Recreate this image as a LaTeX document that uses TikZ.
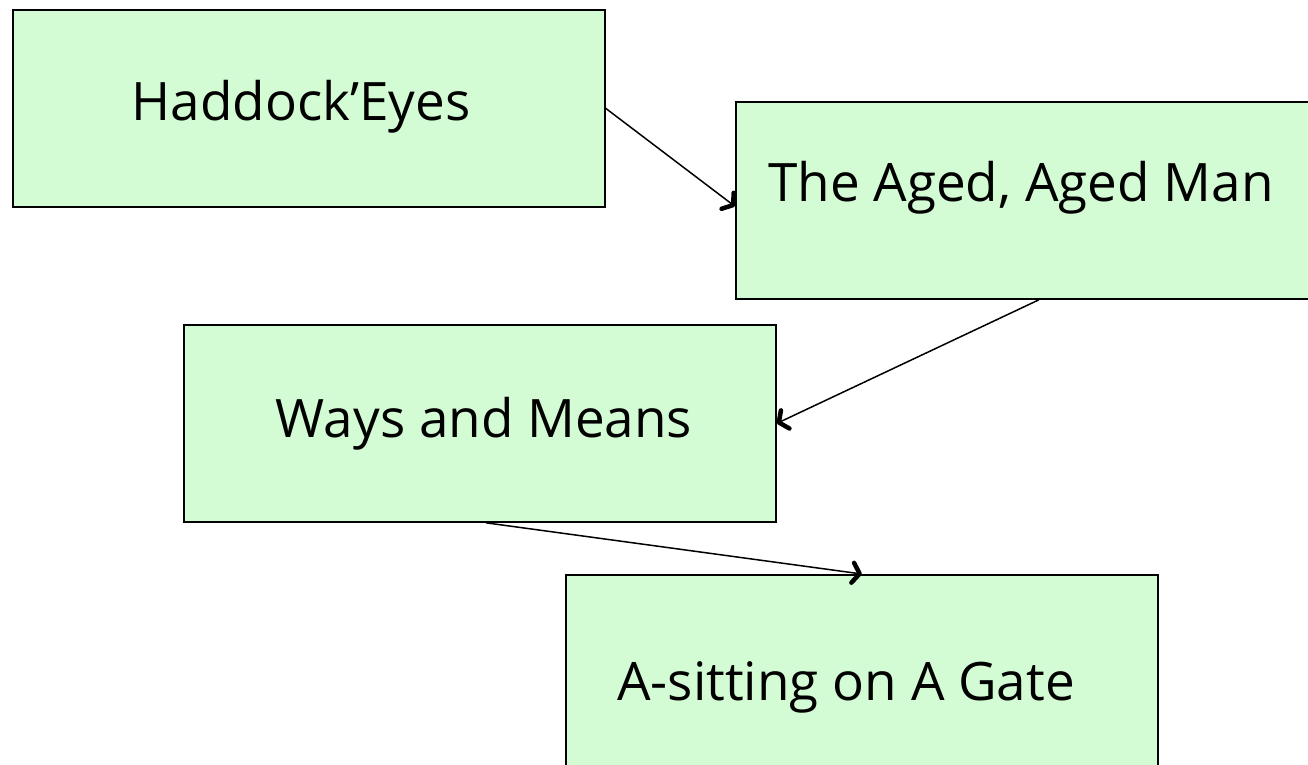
\documentclass[tikz,border=0pt]{standalone}
\usepackage{fontspec}
\setmainfont{Open Sans}
\usetikzlibrary{arrows.meta}
\definecolor{boxgreen}{RGB}{212,252,212}
\begin{document}
\begin{tikzpicture}[x=1pt,y=-1pt,
  box/.style={draw=black,line width=1.8pt,fill=boxgreen,minimum width=592pt,minimum height=197pt,inner sep=0pt,anchor=north west},
  lbl/.style={font=\fontsize{53}{63}\selectfont,inner sep=0pt,anchor=base},
  conn/.style={line width=1.5pt,arrows={-Straight Barb[length=7pt,width=20pt,line width=4.5pt,round]}}]
\useasboundingbox (0,0) rectangle (1308,765);
\clip (0,0) rectangle (1308,765);
\node[box] (b1) at (12,9) {};
\node[box] (b2) at (735,101) {};
\node[box] (b3) at (183,324) {};
\node[box] (b4) at (565,574) {};
\node[lbl] (t1) at (301,121) {Haddock’Eyes};
\node[lbl] (t2) at (1021,201) {The Aged, Aged Man};
\node[lbl] (t3) at (484,437) {Ways and Means};
\node[lbl] (t4) at (846,700) {A-sitting on A Gate};
\coordinate (e1) at ([yshift=-6pt]b2.west);
\coordinate (s2) at ([xshift=7pt]b2.south);
\coordinate (s3) at ([xshift=6pt]b3.south);
\draw[conn] (b1.east) -- (e1);
\draw[conn] (s2) -- (b3.east);
\draw[conn] (s3) -- (b4.north);
\end{tikzpicture}
\end{document}
